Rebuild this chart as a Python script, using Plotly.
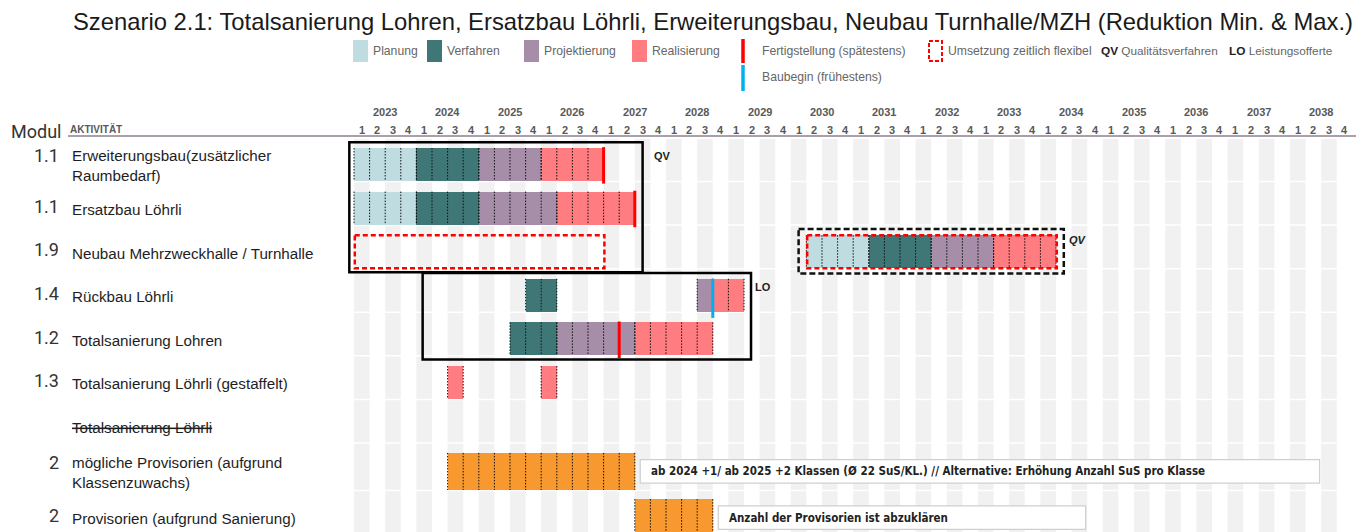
import plotly.graph_objects as go

# ---------------- data ----------------
years = list(range(2023, 2039))
year_labels = [str(y) for y in years]
quarter_labels = ["1", "2", "3", "4"]

modules = ["1.1", "1.1", "1.9", "1.4", "1.2", "1.3", "", "2", "2"]
activities = [
    "Erweiterungsbau(zusätzlicher<br>Raumbedarf)",
    "Ersatzbau Löhrli",
    "Neubau Mehrzweckhalle / Turnhalle",
    "Rückbau Löhrli",
    "Totalsanierung Lohren",
    "Totalsanierung Löhrli (gestaffelt)",
    "<s>Totalsanierung Löhrli</s>",
    "mögliche Provisorien (aufgrund<br>Klassenzuwachs)",
    "Provisorien (aufgrund Sanierung)",
]

phases = ["Planung", "Verfahren", "Projektierung", "Realisierung", "Provisorium"]

seg_row = [0, 0, 0, 0,
           1, 1, 1, 1,
           2, 2, 2, 2,
           3, 3, 3,
           4, 4, 4,
           5, 5,
           7, 8]
seg_phase = ["Planung", "Verfahren", "Projektierung", "Realisierung",
             "Planung", "Verfahren", "Projektierung", "Realisierung",
             "Planung", "Verfahren", "Projektierung", "Realisierung",
             "Verfahren", "Projektierung", "Realisierung",
             "Verfahren", "Projektierung", "Realisierung",
             "Realisierung", "Realisierung",
             "Provisorium", "Provisorium"]
seg_start = ["2023Q1", "2024Q1", "2025Q1", "2026Q1",
             "2023Q1", "2024Q1", "2025Q1", "2026Q2",
             "2030Q2", "2031Q2", "2032Q2", "2033Q2",
             "2025Q4", "2028Q3", "2028Q4",
             "2025Q3", "2026Q2", "2027Q3",
             "2024Q3", "2026Q1",
             "2024Q3", "2027Q3"]
seg_end = ["2023Q4", "2024Q4", "2025Q4", "2026Q4",
           "2023Q4", "2024Q4", "2026Q1", "2027Q2",
           "2031Q1", "2032Q1", "2033Q1", "2034Q1",
           "2026Q1", "2028Q3", "2029Q1",
           "2026Q1", "2027Q2", "2028Q3",
           "2024Q3", "2026Q1",
           "2027Q2", "2028Q3"]

# Fertigstellung (spätestens): marker at the end of the quarter
finish_row = [0, 1, 4]
finish_q = ["2026Q4", "2027Q2", "2027Q1"]
# Baubegin (frühestens): marker at the start of the quarter
begin_row = [3]
begin_q = ["2028Q4"]
# Umsetzung zeitlich flexibel
flex_row = [2, 2]
flex_start = ["2023Q1", "2030Q2"]
flex_end = ["2026Q4", "2034Q1"]
# grouping frames (rows from-to, quarters from-to)
group_rows = [(0, 2), (3, 4)]
group_q = [("2023Q1", "2027Q2"), ("2024Q2", "2029Q1")]
group_tag = ["QV", "LO"]
qv_dashed_row = 2
qv_dashed_q = ("2030Q2", "2034Q1")

note_row = [7, 8]
note_text = ["ab 2024 +1/ ab 2025 +2 Klassen (Ø 22 SuS/KL.) // Alternative: Erhöhung Anzahl SuS pro Klasse",
             "Anzahl der Provisorien ist abzuklären"]
note_start = ["2027Q3", "2028Q4"]
note_end = ["2038Q2", "2034Q3"]

# ---------------- styling / layout ----------------
WIN_W, WIN_H = 1369, 532
OFF = 8  # default page body margin
FW, FH = WIN_W - OFF, WIN_H - OFF
X0PIX, QW = 354.0, 15.6
Y0PIX, PITCH = 164.5, 43.6
ROW_Y = [0, 1, 2, 3, 4, 5, 6, 7.04, 8.1]
BAR_H = [0.757] * 7 + [0.85, 0.85]

colors = {"Planung": "#bfdde0", "Verfahren": "#3f7777", "Projektierung": "#a68ea8",
          "Realisierung": "#ff7c80", "Provisorium": "#f7992f"}

FONT_ARIAL = "Liberation Sans, Arial, sans-serif"
FONT_NARROW = "Liberation Sans Narrow, Arial Narrow, DejaVu Sans Condensed, sans-serif"
FONT_DIN = "Roboto, DejaVu Sans, sans-serif"


def qidx(q):
    y, n = q.split("Q")
    return (int(y) - 2023) * 4 + int(n) - 1


def xp(p):
    return (p - X0PIX) / QW


def yp(p):
    return (p - Y0PIX) / PITCH


fig = go.Figure()
shapes = []
annotations = []

# background stripes (Q1 and Q3 columns)
n_q = len(years) * 4
for i in range(0, n_q, 2):
    shapes.append(dict(type="rect", xref="x", yref="y", x0=i, x1=i + 1, y0=yp(139), y1=yp(WIN_H + 5),
                       fillcolor="#f1f1f1", line=dict(width=0), layer="below"))
for r, yc in enumerate(ROW_Y):
    yy = yc + BAR_H[r] / 2 + 0.01
    shapes.append(dict(type="line", xref="x", yref="y", x0=0, x1=n_q, y0=yy, y1=yy,
                       line=dict(color="white", width=1.5), layer="below"))

# bars
for ph in phases:
    xs, bases, ys, ws = [], [], [], []
    for r, p, s, e in zip(seg_row, seg_phase, seg_start, seg_end):
        if p != ph:
            continue
        a, b = qidx(s), qidx(e) + 1
        xs.append(b - a)
        bases.append(a)
        ys.append(ROW_Y[r])
        ws.append(BAR_H[r])
    fig.add_trace(go.Bar(x=xs, base=bases, y=ys, width=ws, orientation="h",
                         marker=dict(color=colors[ph], line=dict(width=0)),
                         name=ph, showlegend=False, hoverinfo="skip"))

# dotted quarter separators
dx, dy = [], []
for r, s, e in zip(seg_row, seg_start, seg_end):
    a, b = qidx(s), qidx(e) + 1
    for q in range(a, b + 1):
        dx += [q, q, None]
        dy += [ROW_Y[r] - BAR_H[r] / 2, ROW_Y[r] + BAR_H[r] / 2, None]
fig.add_trace(go.Scatter(x=dx, y=dy, mode="lines", line=dict(color="#111111", width=1, dash="1.5px,1.5px"),
                         showlegend=False, hoverinfo="skip"))

# finish markers (red) and begin marker (blue)
for r, q in zip(finish_row, finish_q):
    xq = qidx(q) + 1
    shapes.append(dict(type="line", xref="x", yref="y", x0=xq, x1=xq,
                       y0=ROW_Y[r] - BAR_H[r] / 2 - 0.02, y1=ROW_Y[r] + BAR_H[r] / 2 + 0.06,
                       line=dict(color="#ff0000", width=3)))
for r, q in zip(begin_row, begin_q):
    xq = qidx(q)
    shapes.append(dict(type="line", xref="x", yref="y", x0=xq, x1=xq,
                       y0=ROW_Y[r] - BAR_H[r] / 2, y1=ROW_Y[r] + BAR_H[r] / 2 + 0.14,
                       line=dict(color="#00b0f0", width=3)))

# flexible (red dashed) frames
for r, s, e in zip(flex_row, flex_start, flex_end):
    shapes.append(dict(type="rect", xref="x", yref="y", x0=qidx(s) + 0.05, x1=qidx(e) + 1 + 0.05,
                       y0=ROW_Y[r] - BAR_H[r] / 2, y1=ROW_Y[r] + BAR_H[r] / 2,
                       line=dict(color="#ff0000", width=2.5, dash="5px,3px"), fillcolor="rgba(0,0,0,0)"))

# QV dashed black frame
a, b = qidx(qv_dashed_q[0]), qidx(qv_dashed_q[1]) + 1
r = qv_dashed_row
shapes.append(dict(type="rect", xref="x", yref="y", x0=a - 0.5, x1=b + 0.5,
                   y0=ROW_Y[r] - BAR_H[r] / 2 - 0.14, y1=ROW_Y[r] + BAR_H[r] / 2 + 0.12,
                   line=dict(color="#111111", width=2.5, dash="6px,3px"), fillcolor="rgba(0,0,0,0)"))
annotations.append(dict(x=b + 0.7, y=ROW_Y[r] - 0.27, xref="x", yref="y", text="<b><i>QV</i></b>",
                        showarrow=False, xanchor="left", font=dict(family=FONT_ARIAL, size=11, color="#222")))

# group frames
pads = [(-0.3, 0.5), (-0.6, 0.45)]
tag_dx = [0.6, 0.15]
for (r0, r1), (qs, qe), tag, (pl, pr), tdx in zip(group_rows, group_q, group_tag, pads, tag_dx):
    x0, x1 = qidx(qs) + pl, qidx(qe) + 1 + pr
    y0, y1 = ROW_Y[r0] - 0.51, ROW_Y[r1] + 0.47
    shapes.append(dict(type="rect", xref="x", yref="y", x0=x0, x1=x1, y0=y0, y1=y1,
                       line=dict(color="#000000", width=2.5), fillcolor="rgba(0,0,0,0)"))
    annotations.append(dict(x=x1 + tdx, y=ROW_Y[r0] - 0.2, xref="x", yref="y", text=f"<b>{tag}</b>",
                            showarrow=False, xanchor="left", font=dict(family=FONT_ARIAL, size=11, color="#222")))

# note boxes
for r, t, s, e in zip(note_row, note_text, note_start, note_end):
    x0, x1 = qidx(s) + 0.35, qidx(e) + 1 - 0.1
    hh = 0.27
    shapes.append(dict(type="rect", xref="x", yref="y", x0=x0, x1=x1, y0=ROW_Y[r] - hh, y1=ROW_Y[r] + hh,
                       fillcolor="white", line=dict(color="#cfcfcf", width=1.2)))
    annotations.append(dict(x=x0 + 0.55, y=ROW_Y[r], xref="x", yref="y", text=f"<b>{t}</b>", showarrow=False,
                            xanchor="left", yanchor="middle",
                            font=dict(family=FONT_NARROW, size=11.5, color="#222")))

# header: years, quarters, underline
for k, yl in enumerate(year_labels):
    annotations.append(dict(x=k * 4 + 2, y=yp(112), xref="x", yref="y", text=f"<b>{yl}</b>", showarrow=False,
                            font=dict(family=FONT_ARIAL, size=11, color="#595959")))
    for j, ql in enumerate(quarter_labels):
        annotations.append(dict(x=k * 4 + j + 0.5, y=yp(129.5), xref="x", yref="y", text=f"<b>{ql}</b>",
                                showarrow=False, font=dict(family=FONT_ARIAL, size=11, color="#595959")))
shapes.append(dict(type="line", xref="x", yref="y", x0=xp(68), x1=xp(1356), y0=yp(136), y1=yp(136),
                   line=dict(color="#8c8191", width=1.5)))
annotations.append(dict(x=xp(9), y=yp(131), xref="x", yref="y", text="Modul", showarrow=False, xanchor="left",
                        font=dict(family=FONT_DIN, size=18, color="#333")))
annotations.append(dict(x=xp(68), y=yp(128.5), xref="x", yref="y", text="<b>AKTIVITÄT</b>", showarrow=False,
                        xanchor="left", font=dict(family=FONT_ARIAL, size=10, color="#595959")))

# row labels
for r, (m, act) in enumerate(zip(modules, activities)):
    multi = "<br>" in act
    annotations.append(dict(x=xp(70), y=ROW_Y[r] + 0.03, xref="x", yref="y", text=act,
                            showarrow=False, xanchor="left", align="left",
                            font=dict(family=FONT_ARIAL, size=15.2, color="#1e1e1e")))
    if m:
        annotations.append(dict(x=xp(61), y=ROW_Y[r] - (0.2 if multi else 0.04), xref="x", yref="y", text=m,
                                showarrow=False, xanchor="right",
                                font=dict(family=FONT_DIN, size=18, color="#333")))

# title
annotations.append(dict(x=xp(713), y=yp(21), xref="x", yref="y",
                        text="Szenario 2.1: Totalsanierung Lohren, Ersatzbau Löhrli, Erweiterungsbau, Neubau Turnhalle/MZH (Reduktion Min. & Max.)",
                        showarrow=False, font=dict(family=FONT_ARIAL, size=23.8, color="#1a1a1a")))

# legend (manual)
LEG_FS = 12.2
leg_sw = [("Planung", 353), ("Verfahren", 427), ("Projektierung", 524), ("Realisierung", 632)]
for ph, xs in leg_sw:
    shapes.append(dict(type="rect", xref="x", yref="y", x0=xp(xs), x1=xp(xs + 15), y0=yp(40), y1=yp(62),
                       fillcolor=colors[ph], line=dict(width=0)))
    annotations.append(dict(x=xp(xs + 18), y=yp(51), xref="x", yref="y", text=ph, showarrow=False,
                            xanchor="left", font=dict(family=FONT_ARIAL, size=LEG_FS, color="#666")))
shapes.append(dict(type="line", xref="x", yref="y", x0=xp(743), x1=xp(743), y0=yp(39), y1=yp(63),
                   line=dict(color="#ff0000", width=3.5)))
annotations.append(dict(x=xp(760), y=yp(51), xref="x", yref="y", text="Fertigstellung (spätestens)",
                        showarrow=False, xanchor="left", font=dict(family=FONT_ARIAL, size=LEG_FS, color="#666")))
shapes.append(dict(type="line", xref="x", yref="y", x0=xp(743), x1=xp(743), y0=yp(65), y1=yp(91),
                   line=dict(color="#00b0f0", width=3.5)))
annotations.append(dict(x=xp(760), y=yp(77), xref="x", yref="y", text="Baubegin (frühestens)",
                        showarrow=False, xanchor="left", font=dict(family=FONT_ARIAL, size=LEG_FS, color="#666")))
shapes.append(dict(type="rect", xref="x", yref="y", x0=xp(929), x1=xp(942), y0=yp(41), y1=yp(61),
                   line=dict(color="#ff0000", width=2, dash="4px,2px"), fillcolor="rgba(0,0,0,0)"))
annotations.append(dict(x=xp(946), y=yp(51), xref="x", yref="y", text="Umsetzung zeitlich flexibel",
                        showarrow=False, xanchor="left", font=dict(family=FONT_ARIAL, size=LEG_FS, color="#666")))
annotations.append(dict(x=xp(1099), y=yp(51), xref="x", yref="y",
                        text="<b><span style='color:#222'>QV</span></b> Qualitätsverfahren",
                        showarrow=False, xanchor="left", font=dict(family=FONT_ARIAL, size=11.8, color="#666")))
annotations.append(dict(x=xp(1227), y=yp(51), xref="x", yref="y",
                        text="<b><span style='color:#222'>LO</span></b> Leistungsofferte",
                        showarrow=False, xanchor="left", font=dict(family=FONT_ARIAL, size=11.8, color="#666")))

fig.update_layout(
    width=FW, height=FH,
    margin=dict(l=0, r=0, t=0, b=0),
    paper_bgcolor="white", plot_bgcolor="white",
    barmode="overlay",
    bargap=0,
    xaxis=dict(range=[xp(OFF), xp(WIN_W)], visible=False, fixedrange=True),
    yaxis=dict(range=[yp(WIN_H), yp(OFF)], visible=False, fixedrange=True),
    shapes=shapes, annotations=annotations,
    showlegend=False,
)

fig.write_html("out.html")
